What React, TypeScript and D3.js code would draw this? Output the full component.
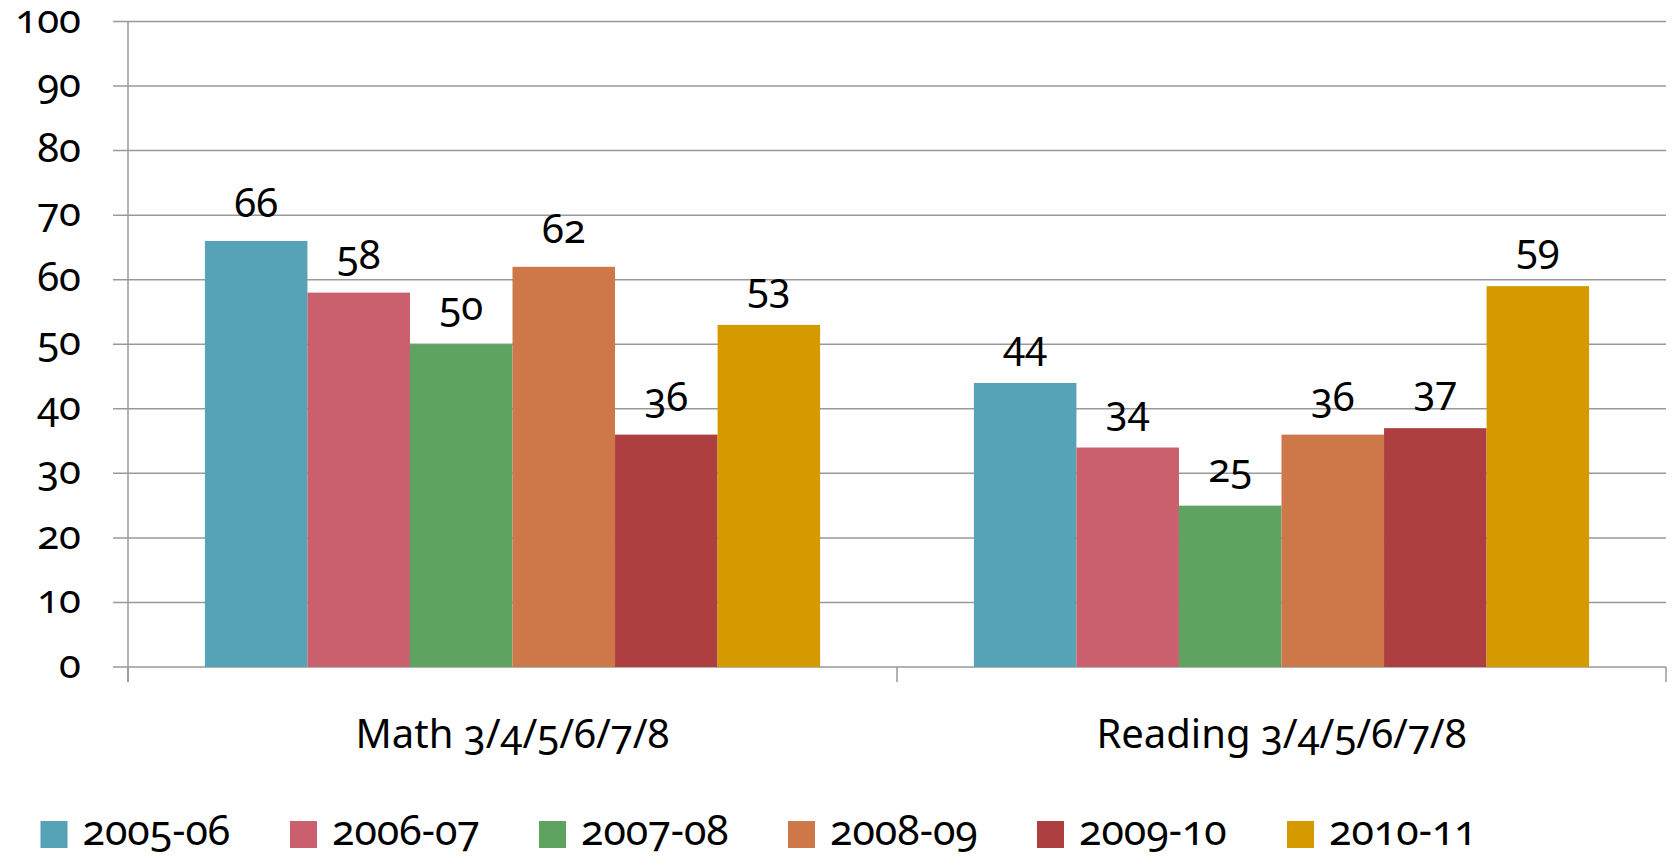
import React from "react";
import * as d3 from "d3";

const categories = ["Math 3/4/5/6/7/8", "Reading 3/4/5/6/7/8"];
const seriesNames = ["2005-06", "2006-07", "2007-08", "2008-09", "2009-10", "2010-11"];
const math = [66, 58, 50, 62, 36, 53];
const reading = [44, 34, 25, 36, 37, 59];
const colors = ["#56A3B7", "#CA5F6E", "#5EA35F", "#CE784A", "#AE3F40", "#D49A00"];
const yTicks = [0, 10, 20, 30, 40, 50, 60, 70, 80, 90, 100];

const values = [math, reading];

const W = 1673, H = 858;
const left = 128, right = 1666, top = 21.5, bottom = 667;
const font = "'Noto Sans', sans-serif";

export default function App() {
  const x0 = d3.scaleBand<string>().domain(categories).range([left, right]).paddingInner(0).paddingOuter(0);
  const bw = x0.bandwidth();
  const inner = bw / 7.5 * 6;
  const x1 = d3.scaleBand<string>().domain(seriesNames).range([(bw - inner) / 2, (bw + inner) / 2]);
  const y = d3.scaleLinear().domain([0, 100]).range([bottom, top]);
  const numStyle: React.CSSProperties = { fontVariantNumeric: "oldstyle-nums", fontFeatureSettings: "'onum' 1" };
  const legendX = [40.5, 290, 539, 788, 1037, 1287];

  return (
    <svg width={W} height={H} style={{ position: "absolute", left: 0, top: 0, background: "#fff" }} fontFamily={font}>
      {yTicks.map((t) => (
        <g key={t}>
          <line x1={113} x2={right} y1={y(t)} y2={y(t)} stroke="#999" strokeWidth={1.5} />
          <text x={81} y={y(t) + 11} textAnchor="end" fontSize={40} fill="#000" style={numStyle}>{t}</text>
        </g>
      ))}
      <line x1={left} x2={left} y1={top} y2={bottom + 15} stroke="#999" strokeWidth={1.5} />
      {[0, 1, 2].map((i) => {
        const xx = left + i * bw;
        return <line key={i} x1={xx} x2={xx} y1={bottom} y2={bottom + 15} stroke="#999" strokeWidth={1.5} />;
      })}
      {categories.map((c, ci) => (
        <g key={c} transform={`translate(${x0(c)},0)`}>
          {seriesNames.map((s, si) => {
            const v = values[ci][si];
            const bx = x1(s)!;
            return (
              <g key={s}>
                <rect x={bx} y={y(v)} width={x1.bandwidth()} height={bottom - y(v)} fill={colors[si]} />
                <text x={bx + x1.bandwidth() / 2} y={y(v) - 24} textAnchor="middle" fontSize={40} fill="#000" style={numStyle}>{v}</text>
              </g>
            );
          })}
          <text x={bw / 2} y={748} textAnchor="middle" fontSize={40} fill="#000" style={numStyle}>{c}</text>
        </g>
      ))}
      {seriesNames.map((s, si) => (
        <g key={s}>
          <rect x={legendX[si]} y={821} width={27} height={27} fill={colors[si]} />
          <text x={legendX[si] + 42} y={845} fontSize={41} fill="#000" style={numStyle}>{s}</text>
        </g>
      ))}
    </svg>
  );
}
